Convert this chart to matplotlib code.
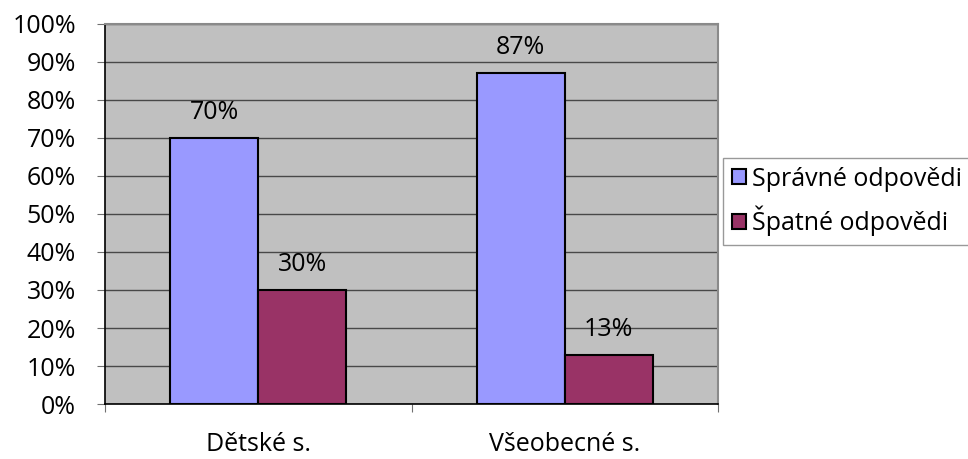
import matplotlib
matplotlib.use("Agg")
import matplotlib.pyplot as plt
import numpy as np

categories = ["Dětské s.", "Všeobecné s."]
series_names = ["Správné odpovědi", "Špatné odpovědi"]
spravne = [70, 87]
spatne = [30, 13]
y_ticks = [0, 10, 20, 30, 40, 50, 60, 70, 80, 90, 100]

plt.rcParams["font.family"] = ["Open Sans", "DejaVu Sans"]
FS = 18

fig = plt.figure(figsize=(9.68, 4.59), dpi=100)
ax = fig.add_axes([0.1085, 0.1198, 0.6333, 0.828])
ax.set_facecolor("#C0C0C0")

x = np.arange(len(categories))
w = 0.287
b1 = ax.bar(x - w / 2, spravne, w, color="#9999FF", edgecolor="black", linewidth=1.5,
            label=series_names[0], zorder=3)
b2 = ax.bar(x + w / 2, spatne, w, color="#993366", edgecolor="black", linewidth=1.5,
            label=series_names[1], zorder=3)

for bars, vals in ((b1, spravne), (b2, spatne)):
    for rect, v in zip(bars, vals):
        ax.text(rect.get_x() + rect.get_width() / 2, v + 6.7, f"{v}%",
                ha="center", va="center", fontsize=FS, color="black", zorder=4)

ax.set_xlim(-0.5, len(categories) - 0.5)
ax.set_ylim(0, 100)
ax.set_yticks(y_ticks)
ax.set_yticklabels([f"{t}%" for t in y_ticks], fontsize=FS)
ax.yaxis.grid(True, color="#484848", linewidth=1, zorder=1)
ax.tick_params(axis="y", length=6, color="#707070", pad=15)

ax.set_xticks([-0.5, 0.5, 1.5], minor=False)
ax.set_xticklabels(["", "", ""])
ax.set_xticks(x, minor=True)
ax.set_xticklabels(categories, minor=True, fontsize=FS)
ax.tick_params(axis="x", which="major", length=6, color="#707070")
ax.tick_params(axis="x", which="minor", length=0, pad=20)

ax.spines["left"].set_color("black")
ax.spines["left"].set_linewidth(1.2)
ax.spines["bottom"].set_color("black")
ax.spines["bottom"].set_linewidth(1.2)
ax.spines["top"].set_color("#8a8a8a")
ax.spines["right"].set_color("#8a8a8a")
ax.spines["top"].set_linewidth(1.5)
ax.spines["right"].set_linewidth(1.5)

leg = fig.legend(handles=[b1, b2], labels=series_names, loc="upper left",
                 bbox_to_anchor=(723 / 968, 1 - 158 / 459), fontsize=FS,
                 frameon=True, fancybox=False, edgecolor="#808080",
                 handlelength=0.55, handleheight=0.55, handletextpad=0.25,
                 borderpad=0.35, labelspacing=0.55, borderaxespad=0)
leg.get_frame().set_linewidth(1.0)

fig.savefig("out.png", dpi=100)
